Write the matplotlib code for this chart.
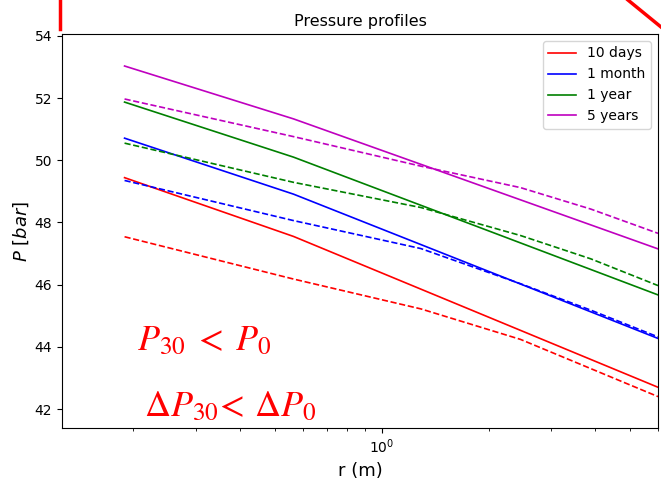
import numpy as np
import matplotlib.pyplot as plt
from matplotlib.lines import Line2D

# radial positions (m)
r_solid = [0.189, 0.565, 6.0]
r_dash = [0.189, 0.565, 1.29, 2.46, 3.88, 6.0]

# pressure profiles (bar), solid lines
p_10d = [49.44, 47.55, 42.70]
p_1m = [50.71, 48.91, 44.27]
p_1y = [51.87, 50.10, 45.67]
p_5y = [53.03, 51.33, 47.15]

# pressure profiles (bar), dashed lines
p_10d_d = [47.54, 46.18, 45.22, 44.24, 43.30, 42.40]
p_1m_d = [49.35, 48.06, 47.16, 46.03, 45.18, 44.32]
p_1y_d = [50.55, 49.29, 48.48, 47.58, 46.83, 45.97]
p_5y_d = [51.97, 50.76, 49.81, 49.12, 48.43, 47.65]

labels = ["10 days", "1 month", "1 year", "5 years"]
colors = ["r", "b", "g", "m"]

fig = plt.figure(figsize=(6.61, 4.82), dpi=100)
ax = fig.add_axes([0.0938, 0.112, 0.9017, 0.8175])

for p, c, lab in zip([p_10d, p_1m, p_1y, p_5y], colors, labels):
    ax.plot(r_solid, p, color=c, linewidth=1.2, label=lab)
for p, c in zip([p_10d_d, p_1m_d, p_1y_d, p_5y_d], colors):
    ax.plot(r_dash, p, color=c, linewidth=1.2, linestyle="--")

ax.set_xscale("log")
ax.set_xlim(0.126, 6.0)
ax.set_ylim(41.39, 54.06)
ax.set_yticks([42, 44, 46, 48, 50, 52, 54])
ax.tick_params(labelsize=10)
ax.set_xlabel("r (m)", fontsize=13)
ax.set_ylabel("$P\\ [bar]$", fontsize=13)
ax.yaxis.set_label_coords(-0.052, 0.5)
ax.set_title("Pressure profiles", fontsize=11.5)
ax.legend(loc="upper right", fontsize=10)

# red notes drawn over the plot
fig.text(0.207, 0.295, "$P_{30}\\;<\\;P_0$", color="red", fontsize=26,
         va="center", ha="left", math_fontfamily="stix")
fig.text(0.218, 0.158, "$\\Delta P_{30}\\!<\\,\\Delta P_0$", color="red",
         fontsize=26, va="center", ha="left", math_fontfamily="stix")
fig.add_artist(Line2D([0.0908, 0.0908], [1.0, 0.94], color="red",
                      linewidth=2.5, transform=fig.transFigure))
fig.add_artist(Line2D([0.95, 1.0], [1.0, 0.944], color="red",
                      linewidth=2.5, transform=fig.transFigure))

plt.savefig("out.png", dpi=100)
